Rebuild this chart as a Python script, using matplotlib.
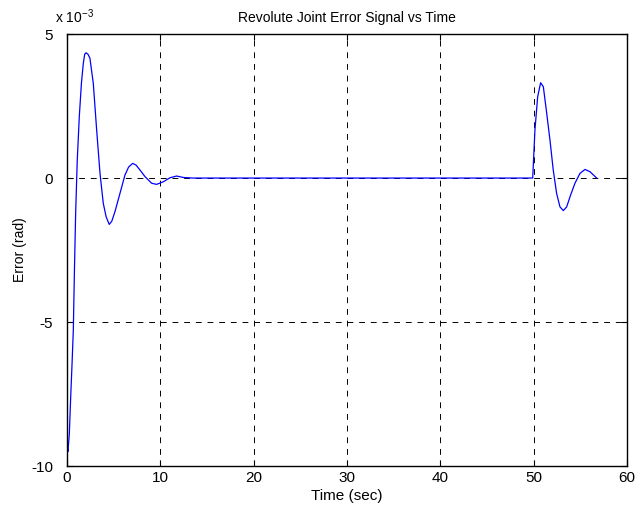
import matplotlib
matplotlib.use("Agg")
import matplotlib.pyplot as plt
import numpy as np

plt.rcParams['font.family'] = ['Liberation Sans', 'DejaVu Sans']
plt.rcParams['axes.unicode_minus'] = False

# error signal samples (time in sec, error in 1e-3 rad)
t = [0.0, 0.02, 0.1, 0.25, 0.4, 0.55, 0.68, 0.8, 0.93, 1.1, 1.32, 1.55, 1.75,
     1.9, 2.04, 2.25, 2.46, 2.82, 3.18, 3.54, 3.89, 4.2, 4.53, 4.8, 5.14,
     5.68, 6.21, 6.6, 7.04, 7.4, 7.82, 8.36, 9.07, 9.6, 10.32, 11.04, 11.75,
     12.46, 13.5, 20.0, 30.0, 40.0, 49.9, 50.14, 50.43, 50.75, 51.04, 51.4,
     51.75, 52.1, 52.46, 52.82, 53.18, 53.54, 53.96, 54.43, 54.96, 55.5, 56.04,
     56.75]
err = [-7.9, -9.3, -9.5, -8.9, -7.6, -6.4, -5.28, -3.2, -1.22, 0.6, 2.13, 3.3,
       3.98, 4.3, 4.35, 4.3, 4.16, 3.29, 1.67, 0.16, -0.88, -1.35, -1.61, -1.5,
       -1.17, -0.53, 0.10, 0.38, 0.51, 0.45, 0.28, 0.05, -0.18, -0.22, -0.13,
       0.01, 0.07, 0.02, 0.0, 0.0, 0.0, 0.0, 0.0, 1.67, 2.82, 3.31, 3.17, 2.25,
       1.32, 0.28, -0.53, -1.0, -1.13, -1.0, -0.59, -0.18, 0.16, 0.30, 0.22, 0.0]

fig = plt.figure(figsize=(6.36, 5.13), dpi=100)
ax = fig.add_axes([0.1053, 0.0916, 0.8805, 0.842])
ax.plot(t, err, color='blue', linewidth=0.9)

ax.set_xlim(0, 60)
ax.set_ylim(-10, 5)
ax.set_xticks([0, 10, 20, 30, 40, 50, 60])
ax.set_yticks([-10, -5, 0, 5])
ax.grid(True, color='black', linestyle=(0, (6, 6)), linewidth=0.7)
ax.tick_params(direction='in', top=True, right=True, labelsize=11, length=4)
ax.tick_params(axis='y', pad=10)
for s in ax.spines.values():
    s.set_linewidth(1.0)

ax.set_title('Revolute Joint Error Signal vs Time', fontsize=10, pad=9)
ax.set_xlabel('Time (sec)', fontsize=11, labelpad=3)
ax.set_ylabel('Error (rad)', fontsize=10, labelpad=3)
ax.text(-0.022, 1.018, r'x 10$^{\mathregular{-3}}$', transform=ax.transAxes,
        fontsize=10, ha='left', va='bottom')

fig.savefig('out.png', dpi=100)
